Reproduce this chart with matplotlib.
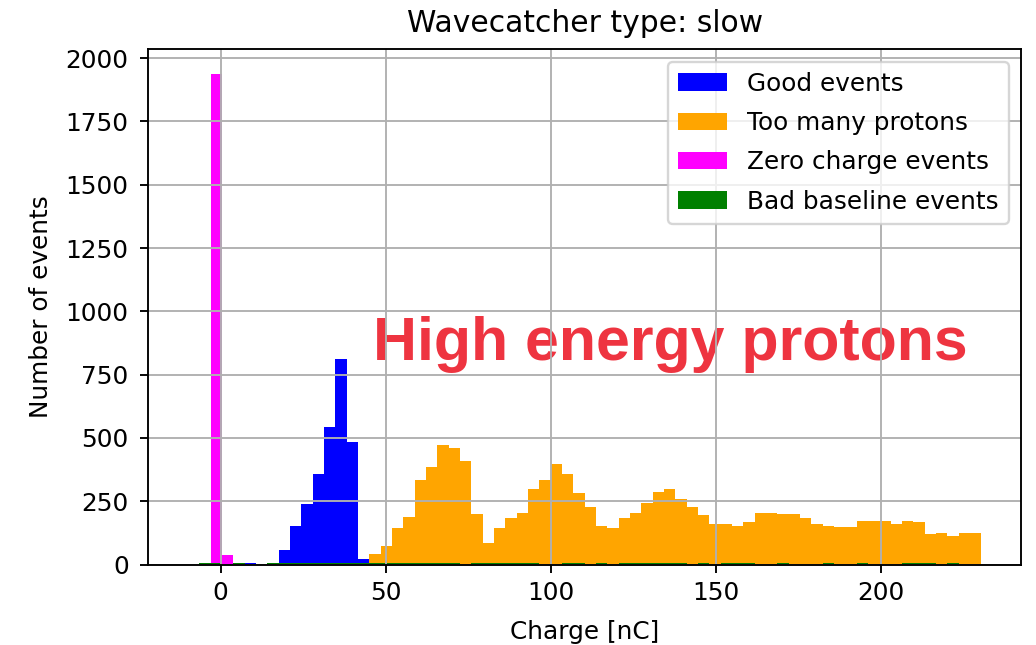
import numpy as np
import matplotlib.pyplot as plt

plt.rcParams['font.size'] = 10.5

# Common binning used for every event class
BIN_LO, BIN_HI, N_BINS = -9.9, 230.4, 70

# Good events: counts starting at bin 5
GOOD_START = 5
GOOD = [5, 0, 0, 56, 151, 237, 359, 543, 811, 484, 20]

# Zero charge events: counts starting at bin 2
ZERO_START = 2
ZERO = [1938, 38]

# Too many protons: counts starting at bin 16
MANY_START = 16
MANY = [42, 73, 144, 188, 333, 385, 472, 462, 408, 200, 86, 144, 182, 205,
        299, 333, 397, 359, 282, 228, 154, 144, 182, 205, 241, 288, 299,
        259, 228, 195, 160, 160, 154, 167, 205, 205, 201, 201, 183, 160,
        154, 147, 147, 170, 170, 170, 160, 170, 167, 119, 126, 113, 126, 126]

# Bad baseline events: small counts over the full range
BAD = [0, 5, 5, 0, 5, 0, 0, 5, 5, 5, 5, 5, 5, 5, 5, 5,
       5, 5, 5, 5, 5, 5, 5, 5, 0, 5, 5, 5, 5, 5, 5, 0,
       0, 5, 5, 0, 5, 0, 5, 5, 5, 5, 5, 5, 0, 5, 0, 5,
       5, 5, 0, 0, 5, 0, 0, 0, 5, 0, 0, 5, 0, 0, 0, 5,
       5, 5, 0, 5, 0, 0]


def full_counts(start, vals):
    c = np.zeros(N_BINS)
    c[start:start + len(vals)] = vals
    return c


edges = np.linspace(BIN_LO, BIN_HI, N_BINS + 1)
centers = 0.5 * (edges[:-1] + edges[1:])

fig = plt.figure(figsize=(1036 / 170, 645 / 170), dpi=170)
ax = fig.add_axes([0.1431, 0.1248, 0.9855 - 0.1431, 0.9236 - 0.1248])

ax.hist(centers, bins=edges, weights=full_counts(GOOD_START, GOOD),
        color='blue', label='Good events')
ax.hist(centers, bins=edges, weights=full_counts(MANY_START, MANY),
        color='orange', label='Too many protons')
ax.hist(centers, bins=edges, weights=full_counts(ZERO_START, ZERO),
        color='magenta', label='Zero charge events')
ax.hist(centers, bins=edges, weights=np.array(BAD, dtype=float),
        color='green', label='Bad baseline events')

ax.text(46.3, 809, 'High energy protons', fontsize=25.8, fontweight='bold',
        family=['Liberation Sans', 'DejaVu Sans'], color='#ee3440',
        va='baseline', zorder=1)

ax.set_title('Wavecatcher type: slow', pad=7.5)
ax.set_xlabel('Charge [nC]', labelpad=6.5)
ax.set_ylabel('Number of events', labelpad=5.5)
ax.tick_params(axis='y', pad=4.8)
ax.legend(loc='upper right', labelspacing=0.62)
ax.grid()

fig.savefig('out.png', dpi=170)
